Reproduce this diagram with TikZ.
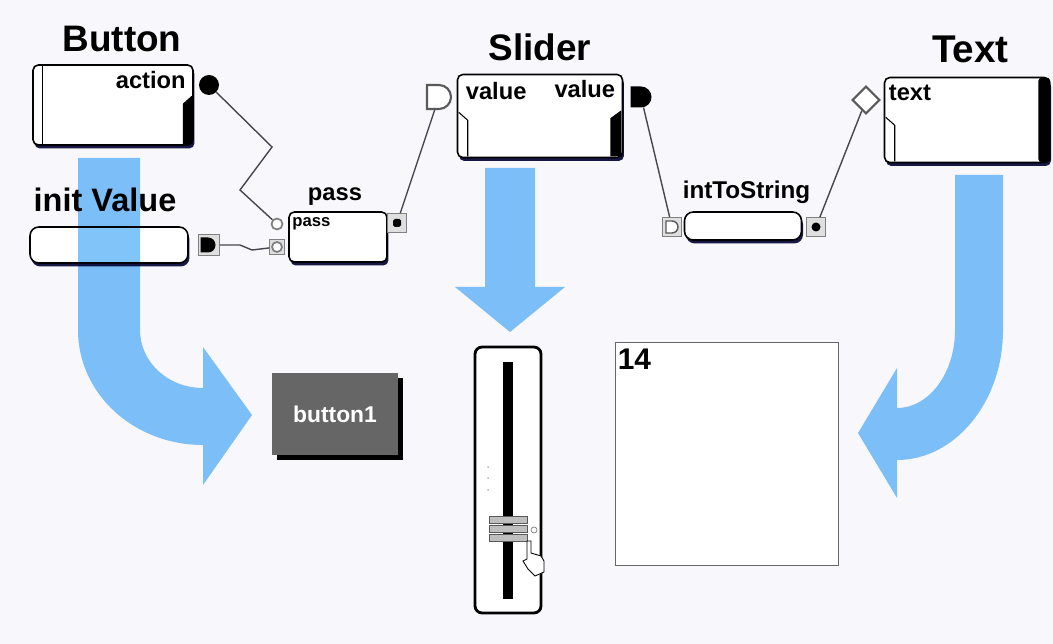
\documentclass[tikz,border=0pt]{standalone}
\usepackage{fontspec}
\setmainfont{Liberation Sans}
\usetikzlibrary{arrows.meta, positioning, shapes.geometric, shapes.misc, shadows}

\definecolor{paper}{RGB}{248,248,252}
\definecolor{flowblue}{RGB}{128,196,250}
\definecolor{wiregray}{RGB}{70,70,80}
\definecolor{btngray}{RGB}{102,102,102}

\begin{document}
\begin{tikzpicture}[x=0.02cm, y=-0.02cm,
		block/.style={rectangle, draw=black, line width=0.9pt, fill=white, rounded corners=3pt, inner sep=0pt, drop shadow={shadow xshift=0.03cm, shadow yshift=-0.07cm, fill=black!80!blue, opacity=0.9}},
		blocktitle/.style={font=\bfseries\fontsize{21}{21}\selectfont, inner sep=0pt},
		portlabel/.style={font=\bfseries\fontsize{13.5}{14}\selectfont, inner sep=1pt},
		socket/.style={rectangle, draw=gray, fill=gray!25, minimum size=0.42cm, inner sep=0pt},
		dport/.style={rounded rectangle, rounded rectangle west arc=none, inner sep=0pt},
		wire/.style={draw=wiregray, line width=0.8pt},
		flow/.style={fill=flowblue, blend mode=multiply}
		]
		
		\useasboundingbox (0,0) rectangle (1053,644);
		\fill[paper] (0,0) rectangle (1053,644);
		
		% Program blocks
		\node[block, minimum width=3.2cm, minimum height=1.6cm] (btn) at (113,105) {};
		\node[block, minimum width=3.16cm, minimum height=0.72cm, rounded corners=5pt] (initval) at (109,245) {};
		\node[block, minimum width=1.96cm, minimum height=1cm] (pass) at (338,237) {};
		\node[block, minimum width=3.3cm, minimum height=1.66cm] (sld) at (540,116) {};
		\node[block, minimum width=2.34cm, minimum height=0.56cm, rounded corners=5pt] (its) at (743,226) {};
		\node[block, minimum width=3.3cm, minimum height=1.7cm] (txt) at (967,120) {};
		
		% Block names
		\node[blocktitle, above=0.24cm of btn, xshift=0.18cm] (btnname) {Button};
		\node[blocktitle, font=\bfseries\fontsize{18.5}{19}\selectfont, above=0.28cm of initval, xshift=-0.08cm] (initname) {init Value};
		\node[blocktitle, font=\bfseries\fontsize{13.5}{14}\selectfont, above=0.1cm of pass, xshift=-0.06cm] (passname) {pass};
		\node[blocktitle, above=0.26cm of sld] (sldname) {Slider};
		\node[blocktitle, font=\bfseries\fontsize{13.8}{14}\selectfont, above=0.14cm of its, xshift=0.07cm] (itsname) {intToString};
		\node[blocktitle, font=\bfseries\fontsize{22}{22}\selectfont, above=0.26cm of txt, xshift=0.07cm] (txtname) {Text};
		
		% Labels inside the blocks
		\node[portlabel, anchor=north east] (actlbl) at ([shift={(-6,5)}]btn.north east) {action};
		\node[portlabel, anchor=north west] (sldinlbl) at ([shift={(7,6)}]sld.north west) {value};
		\node[portlabel, anchor=north east] (sldoutlbl) at ([shift={(-6,4)}]sld.north east) {value};
		\node[portlabel, anchor=north west] (txtlbl) at ([shift={(3,6)}]txt.north west) {text};
		\node[portlabel, font=\bfseries\fontsize{9.5}{10}\selectfont, anchor=north west] (passlbl) at ([shift={(2,4)}]pass.north west) {pass};
		
		% Block trims
		\draw[line width=0.8pt] ([xshift=0.2cm]btn.north west) -- ([xshift=0.2cm]btn.south west);
		\fill ([shift={(-11,-2)}]btn.south east) -- ([shift={(-2,-2)}]btn.south east) -- ([shift={(-2,-50)}]btn.south east) -- ([shift={(-11,-42)}]btn.south east) -- cycle;
		\fill ([shift={(-13,-2)}]sld.south east) -- ([shift={(-2,-2)}]sld.south east) -- ([shift={(-2,-48)}]sld.south east) -- ([shift={(-13,-40)}]sld.south east) -- cycle;
		\draw[line width=0.6pt] ([shift={(2,-46)}]sld.south west) -- ([shift={(11,-38)}]sld.south west) -- ([shift={(11,-2)}]sld.south west);
		\fill[rounded corners=2pt] ([shift={(-12,1)}]txt.north east) rectangle ([shift={(0,-1)}]txt.south east);
		\draw[line width=0.6pt] ([shift={(2,-46)}]txt.south west) -- ([shift={(11,-38)}]txt.south west) -- ([shift={(11,-2)}]txt.south west);
		
		% Ports
		\node[circle, fill=black, minimum size=0.4cm, inner sep=0pt] (actport) at (209,85) {};
		\node[circle, draw=gray, fill=white, line width=1pt, minimum size=0.22cm, inner sep=0pt] (passin1) at (277,224) {};
		\node[socket, minimum size=0.3cm] (passsock) at (277,247) {};
		\node[circle, draw=gray, fill=white, line width=1pt, minimum size=0.2cm, inner sep=0pt] (passin2) at (277,247) {};
		\node[socket] (initsock) at (209,245) {};
		\node[dport, fill=black, minimum width=0.28cm, minimum height=0.3cm] (initout) at (208,245) {};
		\node[socket, minimum size=0.38cm] (passsock2) at (397,223) {};
		\node[fill=black, minimum size=0.16cm, inner sep=0pt, rounded corners=1pt] (passout) at (397,223) {};
		\node[dport, draw=gray!70!black, fill=white, line width=1.2pt, minimum width=0.46cm, minimum height=0.48cm] (sldin) at (439,97) {};
		\node[dport, fill=black, minimum width=0.38cm, minimum height=0.42cm] (sldout) at (641,97) {};
		\node[socket, minimum size=0.38cm] (itssock1) at (672,227) {};
		\node[dport, draw=gray!70!black, fill=white, line width=0.8pt, minimum width=0.22cm, minimum height=0.24cm] (itsin) at (672,227) {};
		\node[socket, minimum size=0.38cm] (itssock2) at (816,227) {};
		\node[circle, fill=black, minimum size=0.18cm, inner sep=0pt] (itsout) at (816,227) {};
		\node[diamond, draw=gray!70!black, fill=white, line width=1.2pt, minimum size=0.55cm, inner sep=0pt] (txtin) at (866,100) {};
		
		% Wires
		\draw[wire] (actport) -- (272,147) -- (240,190) -- (passin1);
		\draw[wire] (initsock) -- (240,245) -- (252,250) -- (passsock);
		\draw[wire] (passsock2) -- (sldin);
		\draw[wire] (sldout) -- (itssock1);
		\draw[wire] (itssock2) -- (txtin);
		
		% Widgets
		\node[fill=btngray, text=white, minimum width=2.52cm, minimum height=1.64cm, font=\bfseries\fontsize{13}{13}\selectfont, drop shadow={shadow xshift=0.1cm, shadow yshift=-0.1cm, fill=black, opacity=1}] (button1) at (335,414) {button1};
		\node[draw=black, line width=1.6pt, rounded corners=4pt, fill=white, minimum width=1.32cm, minimum height=5.32cm] (sliderw) at (508,480) {};
		\fill ([shift={(-5,16)}]sliderw.north) rectangle ([shift={(5,-15)}]sliderw.south);
		\foreach \y in {467,478,490} \fill[gray!60] (488,\y) circle (0.02cm);
		\foreach \k in {0,1,2} \draw[gray!70!black, fill=gray!50, line width=0.4pt] (489,516+9*\k) rectangle (527,523+9*\k);
		\draw[gray] (534,530) circle (0.06cm);
		\draw[fill=white, line width=0.5pt] (527,541) -- (531,541) -- (531,553) -- (541,556) -- (544,561) -- (544,572) -- (535,576) -- (528,569) -- (523,561) -- (527,559) -- cycle;
		\node[draw=gray!80!black, line width=1pt, fill=white, minimum width=4.46cm, minimum height=4.46cm] (disp) at (727,454) {};
		\node[font=\bfseries\fontsize{17}{17}\selectfont, anchor=north west, inner sep=1pt] (dispval) at ([shift={(1,5)}]disp.north west) {14};
		
		% Flow arrows
		\path[flow] (78,158) -- (78,330) .. controls (78,394) and (134,445) .. (203,445) -- (203,485) -- (252,415) -- (203,347) -- (203,388) .. controls (168,388) and (140,362) .. (140,330) -- (140,158) -- cycle;
		\path[flow] (485,168) -- (485,287) -- (455,287) -- (510,332) -- (565,287) -- (535,287) -- (535,168) -- cycle;
		\path[flow] (955,175) -- (955,330) .. controls (955,373) and (929,408) .. (897,408) -- (897,368) -- (858,433) -- (897,498) -- (897,460) .. controls (955,460) and (1003,402) .. (1003,330) -- (1003,175) -- cycle;
		
	\end{tikzpicture}
\end{document}
